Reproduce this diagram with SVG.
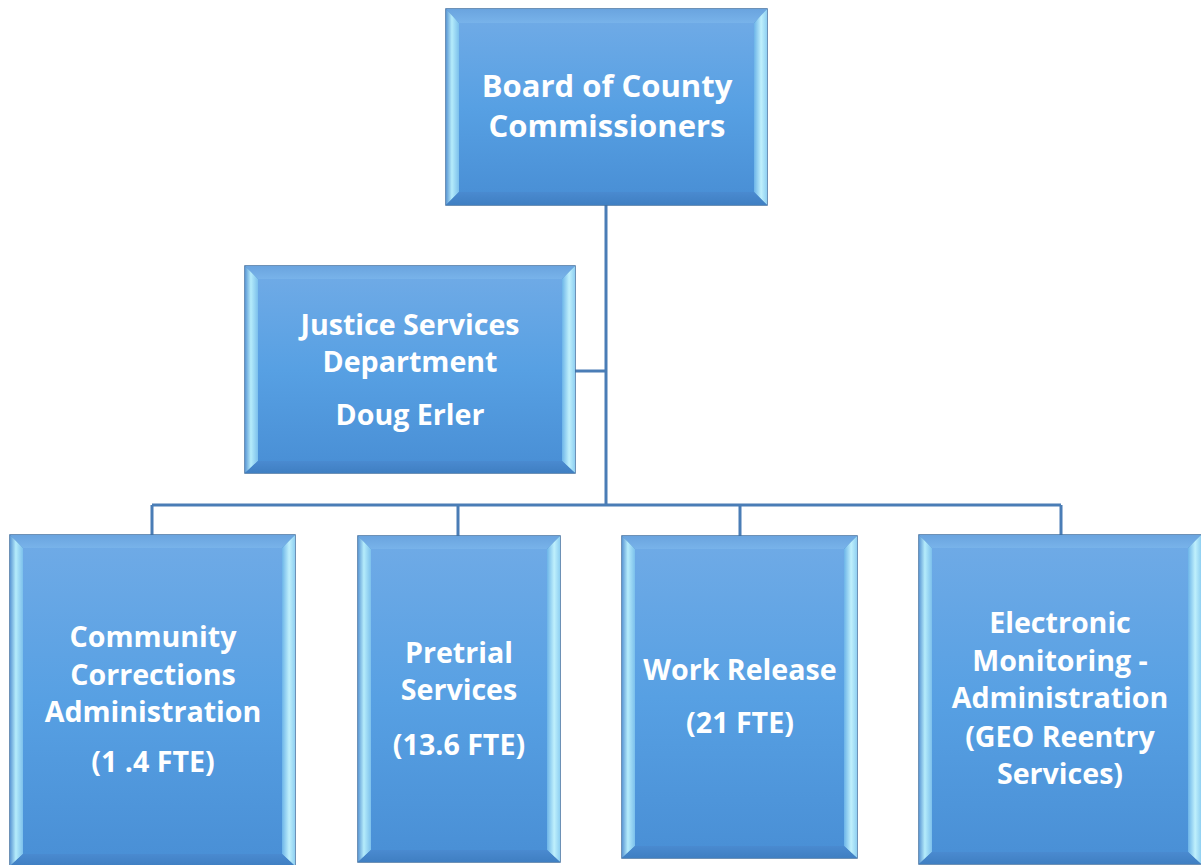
<svg xmlns="http://www.w3.org/2000/svg" width="1201" height="865" viewBox="0 0 1201 865">
<defs>
<linearGradient id="gFace" x1="0" y1="0" x2="0" y2="1">
<stop offset="0" stop-color="#6eaae6"/>
<stop offset="0.5" stop-color="#57a0e3"/>
<stop offset="1" stop-color="#4a90d6"/>
</linearGradient>
<linearGradient id="gLeft" x1="0" y1="0" x2="1" y2="0">
<stop offset="0" stop-color="#5b97d4"/>
<stop offset="0.45" stop-color="#b5ecfb"/>
<stop offset="1" stop-color="#7cc0ec"/>
</linearGradient>
<linearGradient id="gRight" x1="0" y1="0" x2="1" y2="0">
<stop offset="0" stop-color="#6cb4e8"/>
<stop offset="0.55" stop-color="#bff0fc"/>
<stop offset="1" stop-color="#8fd0f2"/>
</linearGradient>
<linearGradient id="gTop" x1="0" y1="0" x2="0" y2="1">
<stop offset="0" stop-color="#6aa4df"/>
<stop offset="1" stop-color="#78b3ea"/>
</linearGradient>
<linearGradient id="gBot" x1="0" y1="0" x2="0" y2="1">
<stop offset="0" stop-color="#4a8ad0"/>
<stop offset="1" stop-color="#3f7fc2"/>
</linearGradient>
</defs>
<style>
.outer{stroke:#3e6d9f;stroke-width:1.5;fill:#4a88c9}
.face{fill:url(#gFace)}
.bl{fill:url(#gLeft)}
.br{fill:url(#gRight)}
.bt{fill:url(#gTop)}
.bb{fill:url(#gBot)}
.conn{stroke:#4a7db6;stroke-width:3;fill:none}
text{font-family:"Open Sans","Liberation Sans",sans-serif;font-weight:bold;fill:#ffffff;text-anchor:middle;font-size:28.6px}
.big{font-size:31px}
</style>
<rect width="1201" height="865" fill="#ffffff"/>
<g id="connectors">
<path class="conn" d="M606 205 V505 M575 371 H606 M152 505 H1061 M152 505 V535 M458 505 V536 M740 505 V536 M1061 505 V535"/>
</g>
<g id="board">
<rect class="outer" x="446" y="9" width="321" height="196"/>
<polygon class="bt" points="446,9 767,9 754,23 459,23"/>
<polygon class="bl" points="446,9 459,23 459,192 446,205"/>
<polygon class="br" points="767,9 767,205 754,192 754,23"/>
<polygon class="bb" points="446,205 459,192 754,192 767,205"/>
<rect class="face" x="459" y="23" width="295" height="169"/>
<text class="big" x="607" y="97">Board of County</text>
<text class="big" x="607" y="137">Commissioners</text>
</g>
<g id="justice">
<rect class="outer" x="245" y="266" width="330" height="207"/>
<polygon class="bt" points="245,266 575,266 562,279 258,279"/>
<polygon class="bl" points="245,266 258,279 258,461 245,473"/>
<polygon class="br" points="575,266 575,473 562,461 562,279"/>
<polygon class="bb" points="245,473 258,461 562,461 575,473"/>
<rect class="face" x="258" y="279" width="304" height="182"/>
<text x="410" y="335">Justice Services</text>
<text x="410" y="372">Department</text>
<text x="410" y="425">Doug Erler</text>
</g>
<g id="community">
<rect class="outer" x="10" y="535" width="285" height="331"/>
<polygon class="bt" points="10,535 295,535 282,548 23,548"/>
<polygon class="bl" points="10,535 23,548 23,854 10,866"/>
<polygon class="br" points="295,535 295,866 282,854 282,548"/>
<polygon class="bb" points="10,866 23,854 282,854 295,866"/>
<rect class="face" x="23" y="548" width="259" height="306"/>
<text x="153" y="647">Community</text>
<text x="153" y="685">Corrections</text>
<text x="153" y="722">Administration</text>
<text x="153" y="772">(1 .4 FTE)</text>
</g>
<g id="pretrial">
<rect class="outer" x="358" y="536" width="202" height="326"/>
<polygon class="bt" points="358,536 560,536 547,549 371,549"/>
<polygon class="bl" points="358,536 371,549 371,850 358,862"/>
<polygon class="br" points="560,536 560,862 547,850 547,549"/>
<polygon class="bb" points="358,862 371,850 547,850 560,862"/>
<rect class="face" x="371" y="549" width="176" height="301"/>
<text x="459" y="663">Pretrial</text>
<text x="459" y="700">Services</text>
<text x="459" y="755">(13.6 FTE)</text>
</g>
<g id="workrelease">
<rect class="outer" x="622" y="536" width="235" height="322"/>
<polygon class="bt" points="622,536 857,536 844,549 635,549"/>
<polygon class="bl" points="622,536 635,549 635,846 622,858"/>
<polygon class="br" points="857,536 857,858 844,846 844,549"/>
<polygon class="bb" points="622,858 635,846 844,846 857,858"/>
<rect class="face" x="635" y="549" width="209" height="297"/>
<text x="740" y="680">Work Release</text>
<text x="740" y="733">(21 FTE)</text>
</g>
<g id="electronic">
<rect class="outer" x="919" y="535" width="282" height="329"/>
<polygon class="bt" points="919,535 1201,535 1188,548 932,548"/>
<polygon class="bl" points="919,535 932,548 932,852 919,864"/>
<polygon class="br" points="1201,535 1201,864 1188,852 1188,548"/>
<polygon class="bb" points="919,864 932,852 1188,852 1201,864"/>
<rect class="face" x="932" y="548" width="256" height="304"/>
<text x="1060" y="633">Electronic</text>
<text x="1060" y="671">Monitoring -</text>
<text x="1060" y="708">Administration</text>
<text x="1060" y="747">(GEO Reentry</text>
<text x="1060" y="784">Services)</text>
</g>
</svg>
